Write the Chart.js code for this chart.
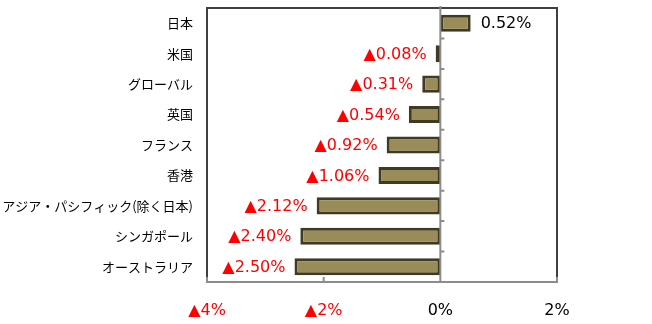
<!DOCTYPE html>
<html>
<head>
<meta charset="utf-8">
<script src="https://cdn.jsdelivr.net/npm/chart.js@4"></script>
<style>
    html, body { margin: 0; padding: 0; background: #fff; }
    #wrap { width: 652px; height: 324px; }
</style>
</head>
<body>
<div id="wrap"><canvas id="returnChart"></canvas></div>
<script>
// regions and returns (%)
const regions = ['日本', '米国', 'グローバル', '英国', 'フランス', '香港', 'アジア・パシフィック(除く日本)', 'シンガポール', 'オーストラリア'];
const returns = [0.52, -0.08, -0.31, -0.54, -0.92, -1.06, -2.12, -2.40, -2.50];
const xTicks = [-4, -2, 0, 2];

const RED = '#FF0000';
const numFont = '"DejaVu Sans", sans-serif';

function fmtPct(v, digits) {
    const s = Math.abs(v).toFixed(digits) + '%';
    return v < 0 ? '▲' + s : s;
}

// frame, zero line and little tick marks, drawn like the original sheet
const framePlugin = {
    id: 'frame',
    afterDatasetsDraw(chart) {
        const { ctx, chartArea: a, scales } = chart;
        const x0 = scales.x.getPixelForValue(0);
        ctx.save();
        ctx.lineWidth = 2;
        ctx.strokeStyle = '#404040';
        ctx.beginPath();
        ctx.moveTo(a.left, a.bottom);
        ctx.lineTo(a.left, a.top);
        ctx.lineTo(a.right, a.top);
        ctx.lineTo(a.right, a.bottom);
        ctx.stroke();

        ctx.strokeStyle = '#8c8c8c';
        ctx.beginPath();
        ctx.moveTo(a.left - 1, a.bottom);
        ctx.lineTo(a.right + 1, a.bottom);
        ctx.moveTo(x0, a.top - 2);
        ctx.lineTo(x0, a.bottom);
        // category boundaries on the zero line
        for (let i = 0; i < regions.length - 1; i++) {
            const y = (scales.y.getPixelForValue(i) + scales.y.getPixelForValue(i + 1)) / 2;
            ctx.moveTo(x0, y);
            ctx.lineTo(x0 + 4, y);
        }
        // x ticks on the bottom axis
        xTicks.forEach(v => {
            const x = scales.x.getPixelForValue(v);
            ctx.moveTo(x, a.bottom);
            ctx.lineTo(x, a.bottom - 5);
        });
        ctx.stroke();
        ctx.restore();
    }
};

// value labels next to the bar ends
const valueLabels = {
    id: 'valueLabels',
    afterDatasetsDraw(chart) {
        const { ctx } = chart;
        const meta = chart.getDatasetMeta(0);
        ctx.save();
        ctx.font = '16px ' + numFont;
        ctx.textBaseline = 'middle';
        meta.data.forEach((bar, i) => {
            const v = returns[i];
            if (v >= 0) {
                ctx.fillStyle = '#000';
                ctx.textAlign = 'left';
                ctx.fillText(fmtPct(v, 2), bar.x + 10, bar.y + 1);
            } else {
                ctx.fillStyle = RED;
                ctx.textAlign = 'right';
                ctx.fillText(fmtPct(v, 2), bar.x - 9, bar.y + 1);
            }
        });
        ctx.restore();
    }
};

new Chart(document.getElementById('returnChart'), {
    type: 'bar',
    data: {
        labels: regions,
        datasets: [{
            data: returns,
            backgroundColor: '#9a8c58',
            borderColor: '#3f3a22',
            borderWidth: 3,
            borderSkipped: false,
            categoryPercentage: 0.56,
            barPercentage: 1
        }]
    },
    options: {
        indexAxis: 'y',
        responsive: true,
        maintainAspectRatio: false,
        animation: false,
        layout: { padding: { top: 8, right: 95, left: 0, bottom: 0 } },
        plugins: {
            legend: { display: false },
            tooltip: { enabled: false }
        },
        scales: {
            x: {
                min: -4,
                max: 2,
                afterBuildTicks: scale => { scale.ticks = xTicks.map(v => ({ value: v })); },
                afterFit: scale => {
                    scale.height = 42;
                    scale.paddingLeft = 0;
                    scale.paddingRight = 0;
                },
                grid: { display: false, drawTicks: false },
                border: { display: false },
                ticks: {
                    padding: 19,
                    font: { family: numFont, size: 16 },
                    color: c => c.tick.value < 0 ? RED : '#000',
                    callback: v => fmtPct(v, 0)
                }
            },
            y: {
                afterFit: scale => {
                    scale.width = 207;
                    scale.paddingTop = 0;
                    scale.paddingBottom = 0;
                },
                grid: { display: false, drawTicks: false },
                border: { display: false },
                ticks: {
                    padding: 14,
                    font: { family: '"Noto Sans CJK JP", sans-serif', size: 13 },
                    color: '#000'
                }
            }
        }
    },
    plugins: [framePlugin, valueLabels]
});
</script>
</body>
</html>
